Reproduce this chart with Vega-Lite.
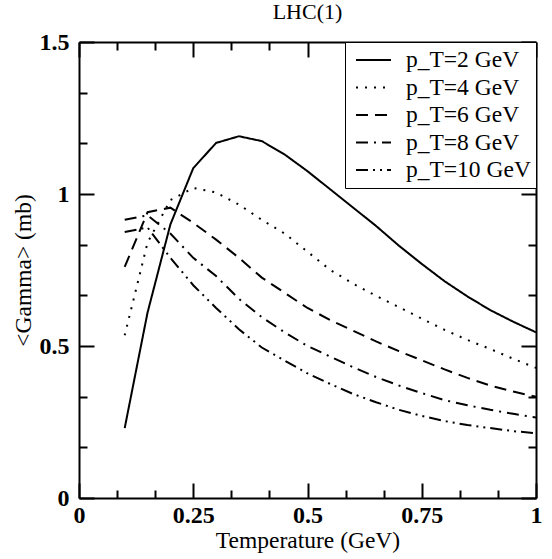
{
  "$schema": "https://vega.github.io/schema/vega-lite/v6.json",
  "width": 457,
  "height": 456,
  "autosize": {"type": "none"},
  "padding": {"left": 79, "top": 42, "right": 16, "bottom": 61},
  "background": "white",
  "config": {"view": {"stroke": null}},
  "title": {"text": "LHC(1)", "font": "Liberation Serif", "fontSize": 22, "fontWeight": "normal", "color": "black", "offset": 11, "dy": 22, "anchor": "middle", "baseline": "alphabetic"},
  "datasets": {
    "curves": [
      {"T":0.1,"G":0.23,"s":"p_T=2 GeV"},{"T":0.15,"G":0.61,"s":"p_T=2 GeV"},{"T":0.2,"G":0.9,"s":"p_T=2 GeV"},{"T":0.25,"G":1.085,"s":"p_T=2 GeV"},{"T":0.3,"G":1.168,"s":"p_T=2 GeV"},{"T":0.35,"G":1.19,"s":"p_T=2 GeV"},{"T":0.4,"G":1.174,"s":"p_T=2 GeV"},{"T":0.45,"G":1.13,"s":"p_T=2 GeV"},{"T":0.5,"G":1.075,"s":"p_T=2 GeV"},{"T":0.55,"G":1.015,"s":"p_T=2 GeV"},{"T":0.6,"G":0.955,"s":"p_T=2 GeV"},{"T":0.65,"G":0.895,"s":"p_T=2 GeV"},{"T":0.7,"G":0.83,"s":"p_T=2 GeV"},{"T":0.75,"G":0.77,"s":"p_T=2 GeV"},{"T":0.8,"G":0.713,"s":"p_T=2 GeV"},{"T":0.85,"G":0.663,"s":"p_T=2 GeV"},{"T":0.9,"G":0.618,"s":"p_T=2 GeV"},{"T":0.95,"G":0.58,"s":"p_T=2 GeV"},{"T":1.0,"G":0.545,"s":"p_T=2 GeV"},
      {"T":0.1,"G":0.535,"s":"p_T=4 GeV"},{"T":0.15,"G":0.84,"s":"p_T=4 GeV"},{"T":0.2,"G":0.98,"s":"p_T=4 GeV"},{"T":0.25,"G":1.02,"s":"p_T=4 GeV"},{"T":0.3,"G":1.005,"s":"p_T=4 GeV"},{"T":0.35,"G":0.965,"s":"p_T=4 GeV"},{"T":0.4,"G":0.915,"s":"p_T=4 GeV"},{"T":0.45,"G":0.87,"s":"p_T=4 GeV"},{"T":0.5,"G":0.81,"s":"p_T=4 GeV"},{"T":0.55,"G":0.75,"s":"p_T=4 GeV"},{"T":0.6,"G":0.705,"s":"p_T=4 GeV"},{"T":0.65,"G":0.665,"s":"p_T=4 GeV"},{"T":0.7,"G":0.628,"s":"p_T=4 GeV"},{"T":0.75,"G":0.59,"s":"p_T=4 GeV"},{"T":0.8,"G":0.553,"s":"p_T=4 GeV"},{"T":0.85,"G":0.52,"s":"p_T=4 GeV"},{"T":0.9,"G":0.49,"s":"p_T=4 GeV"},{"T":0.95,"G":0.458,"s":"p_T=4 GeV"},{"T":1.0,"G":0.428,"s":"p_T=4 GeV"},
      {"T":0.1,"G":0.76,"s":"p_T=6 GeV"},{"T":0.15,"G":0.94,"s":"p_T=6 GeV"},{"T":0.2,"G":0.955,"s":"p_T=6 GeV"},{"T":0.25,"G":0.905,"s":"p_T=6 GeV"},{"T":0.3,"G":0.85,"s":"p_T=6 GeV"},{"T":0.35,"G":0.79,"s":"p_T=6 GeV"},{"T":0.4,"G":0.725,"s":"p_T=6 GeV"},{"T":0.45,"G":0.675,"s":"p_T=6 GeV"},{"T":0.5,"G":0.625,"s":"p_T=6 GeV"},{"T":0.55,"G":0.585,"s":"p_T=6 GeV"},{"T":0.6,"G":0.55,"s":"p_T=6 GeV"},{"T":0.65,"G":0.515,"s":"p_T=6 GeV"},{"T":0.7,"G":0.483,"s":"p_T=6 GeV"},{"T":0.75,"G":0.453,"s":"p_T=6 GeV"},{"T":0.8,"G":0.423,"s":"p_T=6 GeV"},{"T":0.85,"G":0.395,"s":"p_T=6 GeV"},{"T":0.9,"G":0.37,"s":"p_T=6 GeV"},{"T":0.95,"G":0.35,"s":"p_T=6 GeV"},{"T":1.0,"G":0.333,"s":"p_T=6 GeV"},
      {"T":0.1,"G":0.915,"s":"p_T=8 GeV"},{"T":0.15,"G":0.93,"s":"p_T=8 GeV"},{"T":0.2,"G":0.87,"s":"p_T=8 GeV"},{"T":0.25,"G":0.79,"s":"p_T=8 GeV"},{"T":0.3,"G":0.73,"s":"p_T=8 GeV"},{"T":0.35,"G":0.655,"s":"p_T=8 GeV"},{"T":0.4,"G":0.595,"s":"p_T=8 GeV"},{"T":0.45,"G":0.545,"s":"p_T=8 GeV"},{"T":0.5,"G":0.5,"s":"p_T=8 GeV"},{"T":0.55,"G":0.465,"s":"p_T=8 GeV"},{"T":0.6,"G":0.43,"s":"p_T=8 GeV"},{"T":0.65,"G":0.398,"s":"p_T=8 GeV"},{"T":0.7,"G":0.37,"s":"p_T=8 GeV"},{"T":0.75,"G":0.345,"s":"p_T=8 GeV"},{"T":0.8,"G":0.322,"s":"p_T=8 GeV"},{"T":0.85,"G":0.305,"s":"p_T=8 GeV"},{"T":0.9,"G":0.29,"s":"p_T=8 GeV"},{"T":0.95,"G":0.277,"s":"p_T=8 GeV"},{"T":1.0,"G":0.265,"s":"p_T=8 GeV"},
      {"T":0.1,"G":0.875,"s":"p_T=10 GeV"},{"T":0.15,"G":0.89,"s":"p_T=10 GeV"},{"T":0.2,"G":0.79,"s":"p_T=10 GeV"},{"T":0.25,"G":0.7,"s":"p_T=10 GeV"},{"T":0.3,"G":0.625,"s":"p_T=10 GeV"},{"T":0.35,"G":0.555,"s":"p_T=10 GeV"},{"T":0.4,"G":0.495,"s":"p_T=10 GeV"},{"T":0.45,"G":0.452,"s":"p_T=10 GeV"},{"T":0.5,"G":0.41,"s":"p_T=10 GeV"},{"T":0.55,"G":0.375,"s":"p_T=10 GeV"},{"T":0.6,"G":0.342,"s":"p_T=10 GeV"},{"T":0.65,"G":0.315,"s":"p_T=10 GeV"},{"T":0.7,"G":0.29,"s":"p_T=10 GeV"},{"T":0.75,"G":0.27,"s":"p_T=10 GeV"},{"T":0.8,"G":0.253,"s":"p_T=10 GeV"},{"T":0.85,"G":0.24,"s":"p_T=10 GeV"},{"T":0.9,"G":0.23,"s":"p_T=10 GeV"},{"T":0.95,"G":0.22,"s":"p_T=10 GeV"},{"T":1.0,"G":0.213,"s":"p_T=10 GeV"}
    ]
  },
  "data": {"name": "curves"},
  "layer": [
    {
      "mark": {"type": "line", "color": "black", "strokeWidth": 2, "strokeCap": "butt", "clip": true},
      "encoding": {
        "x": {
          "field": "T", "type": "quantitative",
          "scale": {"domain": [0, 1], "nice": false, "zero": false},
          "axis": {
            "orient": "bottom",
            "values": [0, 0.0833333, 0.1666667, 0.25, 0.3333333, 0.4166667, 0.5, 0.5833333, 0.6666667, 0.75, 0.8333333, 0.9166667, 1],
            "title": "Temperature (GeV)",
            "grid": false,
            "domainColor": "black", "domainWidth": 2,
            "tickColor": "black", "tickWidth": 2,
            "tickSize": {"condition": {"test": "abs(datum.value*4-round(datum.value*4))<0.001", "value": -15}, "value": -8},
            "labelExpr": "abs(datum.value*4-round(datum.value*4))<0.001 ? toString(datum.value) : ''",
            "labelFont": "Liberation Serif", "labelFontSize": 24, "labelFontWeight": "bold", "labelColor": "black",
            "labelPadding": 20, "labelFlush": false, "labelOverlap": false,
            "titleFont": "Liberation Serif", "titleFontSize": 23.5, "titleFontWeight": "normal", "titleColor": "black", "titlePadding": -6
          }
        },
        "y": {
          "field": "G", "type": "quantitative",
          "scale": {"domain": [0, 1.5], "nice": false, "zero": false},
          "axis": {
            "orient": "left",
            "values": [0, 0.1666667, 0.3333333, 0.5, 0.6666667, 0.8333333, 1, 1.1666667, 1.3333333, 1.5],
            "title": "<Gamma> (mb)",
            "grid": false,
            "domainColor": "black", "domainWidth": 2,
            "tickColor": "black", "tickWidth": 2,
            "tickSize": {"condition": {"test": "abs(datum.value*2-round(datum.value*2))<0.001", "value": -15}, "value": -8},
            "labelExpr": "abs(datum.value*2-round(datum.value*2))<0.001 ? toString(datum.value) : ''",
            "labelFont": "Liberation Serif", "labelFontSize": 24, "labelFontWeight": "bold", "labelColor": "black",
            "labelPadding": 25, "labelFlush": false, "labelOverlap": false,
            "titleFont": "Liberation Serif", "titleFontSize": 23.5, "titleFontWeight": "normal", "titleColor": "black", "titlePadding": 4
          }
        },
        "strokeDash": {
          "field": "s", "type": "nominal",
          "scale": {
            "domain": ["p_T=2 GeV", "p_T=4 GeV", "p_T=6 GeV", "p_T=8 GeV", "p_T=10 GeV"],
            "range": [[1, 0], [2, 7], [12, 7], [12, 6, 2, 6], [12, 5, 2, 5, 2, 5]]
          },
          "legend": {
            "title": null,
            "orient": "top-right",
            "offset": 0,
            "fillColor": "white",
            "strokeColor": "black",
            "padding": 5,
            "symbolType": "stroke",
            "symbolSize": 1225,
            "symbolStrokeWidth": 2,
            "symbolStrokeColor": "black",
            "symbolOffset": 5,
            "labelOffset": 14,
            "labelExpr": "datum.label + '\u00a0'",
            "labelFont": "Liberation Serif",
            "labelFontSize": 23.5,
            "labelColor": "black",
            "labelLimit": 300,
            "clipHeight": 26,
            "rowPadding": 1.5
          }
        }
      }
    },
    {
      "mark": {"type": "point", "opacity": 0},
      "encoding": {
        "x": {
          "field": "T", "type": "quantitative",
          "axis": {
            "orient": "top",
            "values": [0, 0.0833333, 0.1666667, 0.25, 0.3333333, 0.4166667, 0.5, 0.5833333, 0.6666667, 0.75, 0.8333333, 0.9166667, 1],
            "title": null, "labels": false, "grid": false,
            "domainColor": "black", "domainWidth": 2,
            "tickColor": "black", "tickWidth": 2,
            "tickSize": {"condition": {"test": "abs(datum.value*4-round(datum.value*4))<0.001", "value": -15}, "value": -8}
          }
        },
        "y": {
          "field": "G", "type": "quantitative",
          "axis": {
            "orient": "right",
            "values": [0, 0.1666667, 0.3333333, 0.5, 0.6666667, 0.8333333, 1, 1.1666667, 1.3333333, 1.5],
            "title": null, "labels": false, "grid": false,
            "domainColor": "black", "domainWidth": 2,
            "tickColor": "black", "tickWidth": 2,
            "tickSize": {"condition": {"test": "abs(datum.value*2-round(datum.value*2))<0.001", "value": -15}, "value": -8}
          }
        }
      }
    }
  ],
  "resolve": {"axis": {"x": "independent", "y": "independent"}}
}
